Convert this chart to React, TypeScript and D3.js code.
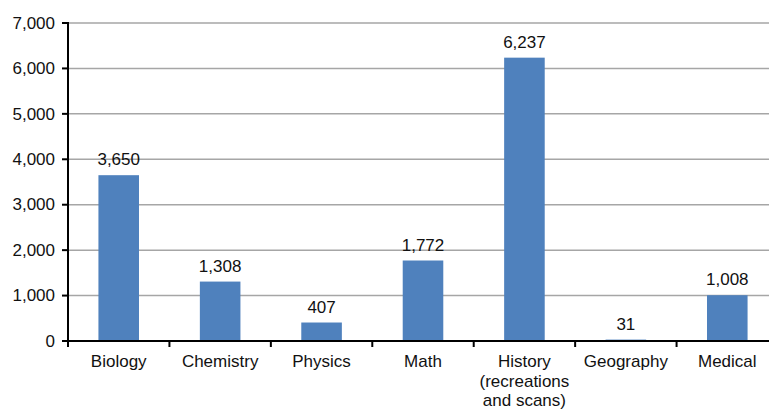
import React, { useEffect, useRef } from 'react'
import * as d3 from 'd3'

const categories = ['Biology', 'Chemistry', 'Physics', 'Math', 'History\n(recreations\nand scans)', 'Geography', 'Medical']
const counts = [3650, 1308, 407, 1772, 6237, 31, 1008]
const yTicks = [0, 1000, 2000, 3000, 4000, 5000, 6000, 7000]

const width = 769
const height = 411
const margin = { top: 23, right: -9, bottom: 70, left: 68 }

export default function App() {
  const svgRef = useRef<SVGSVGElement>(null)

  useEffect(() => {
    const svg = d3.select(svgRef.current)
    svg.selectAll('*').remove()

    const x = d3.scaleBand()
      .domain(categories)
      .range([margin.left, width - margin.right])
      .paddingInner(0.6)
      .paddingOuter(0.3)

    const y = d3.scaleLinear()
      .domain([0, 7000])
      .range([height - margin.bottom, margin.top])

    const font = 'Liberation Sans, Arial, sans-serif'
    const fontSize = '17px'

    // gridlines
    svg.append('g')
      .selectAll('line')
      .data(yTicks.filter(d => d > 0))
      .join('line')
      .attr('x1', margin.left)
      .attr('x2', width)
      .attr('y1', d => y(d))
      .attr('y2', d => y(d))
      .attr('stroke', '#a6a6a6')
      .attr('stroke-width', 1.5)

    // bars
    svg.append('g')
      .selectAll('rect')
      .data(counts)
      .join('rect')
      .attr('x', (d, i) => x(categories[i]) as number)
      .attr('width', x.bandwidth())
      .attr('y', d => y(d))
      .attr('height', d => y(0) - y(d))
      .attr('fill', '#4f81bd')

    // value labels
    svg.append('g')
      .selectAll('text')
      .data(counts)
      .join('text')
      .attr('x', (d, i) => (x(categories[i]) as number) + x.bandwidth() / 2)
      .attr('y', d => y(d) - 10)
      .attr('text-anchor', 'middle')
      .style('font-family', font)
      .style('font-size', fontSize)
      .attr('fill', '#111')
      .text(d => d3.format(',')(d))

    // y axis
    const yaxis = svg.append('g')
    yaxis.append('line')
      .attr('x1', margin.left).attr('x2', margin.left)
      .attr('y1', y(7000) - 1).attr('y2', y(0) + 1)
      .attr('stroke', '#000').attr('stroke-width', 2)
    yaxis.selectAll('.tick')
      .data(yTicks)
      .join('line')
      .attr('x1', margin.left - 6).attr('x2', margin.left)
      .attr('y1', d => y(d)).attr('y2', d => y(d))
      .attr('stroke', '#000').attr('stroke-width', 2)
    yaxis.selectAll('text')
      .data(yTicks)
      .join('text')
      .attr('x', margin.left - 13)
      .attr('y', d => y(d))
      .attr('dy', '0.34em')
      .attr('text-anchor', 'end')
      .style('font-family', font)
      .style('font-size', fontSize)
      .attr('fill', '#111')
      .text(d => d3.format(',')(d))

    // x axis
    const xaxis = svg.append('g')
    xaxis.append('line')
      .attr('x1', margin.left - 6).attr('x2', width)
      .attr('y1', y(0)).attr('y2', y(0))
      .attr('stroke', '#000').attr('stroke-width', 2)
    const step = x.step()
    const bounds = d3.range(categories.length + 1).map(i => margin.left + i * step)
    xaxis.selectAll('.tick')
      .data(bounds)
      .join('line')
      .attr('x1', d => d).attr('x2', d => d)
      .attr('y1', y(0)).attr('y2', y(0) + 6)
      .attr('stroke', '#000').attr('stroke-width', 2)

    const labels = xaxis.selectAll('text.cat')
      .data(categories)
      .join('text')
      .attr('class', 'cat')
      .attr('text-anchor', 'middle')
      .style('font-family', font)
      .style('font-size', fontSize)
      .attr('fill', '#111')
    labels.each(function (d, i) {
      const cx = (x(d) as number) + x.bandwidth() / 2
      d3.select(this).selectAll('tspan')
        .data(d.split('\n'))
        .join('tspan')
        .attr('x', cx)
        .attr('y', (_, j) => y(0) + 26 + j * 19.5)
        .text(t => t)
    })
  }, [])

  return (
    <svg ref={svgRef} width={width} height={height} style={{ position: 'absolute', left: 0, top: 0, background: '#fff' }} />
  )
}
